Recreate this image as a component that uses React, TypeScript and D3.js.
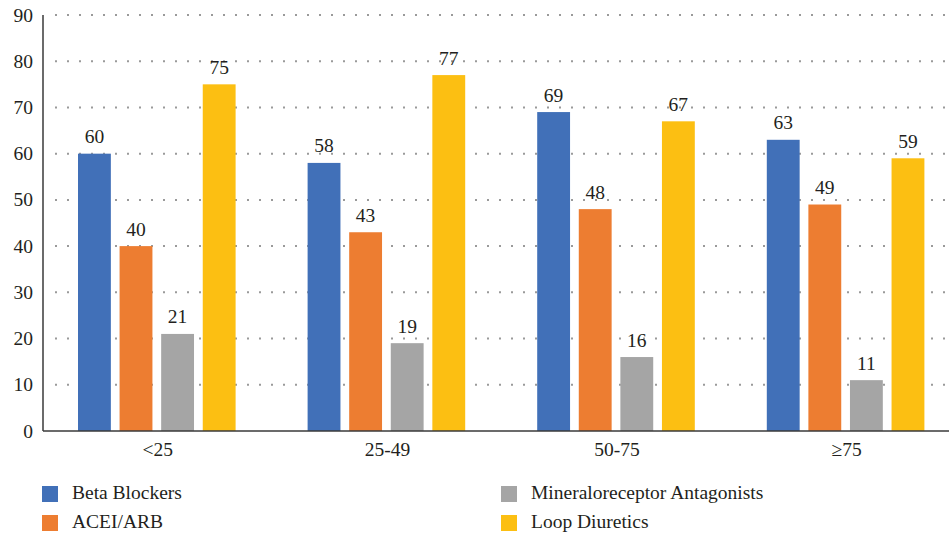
import React from "react";
import * as d3 from "d3";

const categories = ["<25", "25-49", "50-75", "≥75"];
const seriesNames = ["Beta Blockers", "ACEI/ARB", "Mineraloreceptor Antagonists", "Loop Diuretics"];
const betaBlockers = [60, 58, 69, 63];
const aceiArb = [40, 43, 48, 49];
const mineraloreceptor = [21, 19, 16, 11];
const loopDiuretics = [75, 77, 67, 59];
const yTicks = [0, 10, 20, 30, 40, 50, 60, 70, 80, 90];
const colors = ["#4170B8", "#ED7D31", "#A5A5A5", "#FCBF12"];

const W = 949;
const H = 535;
const left = 43;
const right = 949;
const groupStep = 229.6;
const top = 15;
const bottom = 431;
const font = '"Liberation Serif", "Times New Roman", Times';
const txt = { fontFamily: font, fontSize: 19.5, fill: "#231f20" } as const;

export default function App() {
  const series = [betaBlockers, aceiArb, mineraloreceptor, loopDiuretics];
  const x0 = d3
    .scaleBand<string>()
    .domain(categories)
    .range([left, left + groupStep * categories.length])
    .paddingInner(0)
    .paddingOuter(0);
  const x1 = d3
    .scaleBand<string>()
    .domain(seriesNames)
    .range([35, x0.bandwidth() - 37])
    .paddingInner(0.21)
    .paddingOuter(0);
  const y = d3.scaleLinear().domain([0, 90]).range([bottom, top]);

  const legendPos = [
    { x: 42, y: 486 },
    { x: 42, y: 515 },
    { x: 501, y: 486 },
    { x: 501, y: 515 },
  ];

  return (
    <svg
      width={W}
      height={H}
      style={{ position: "absolute", left: 0, top: 0, display: "block", background: "#fff", fontFamily: font }}
    >
      {yTicks.map((t) => (
        <g key={t}>
          {t > 0 && (
            <line
              x1={left + 12}
              x2={right}
              y1={y(t)}
              y2={y(t)}
              stroke="#9a9a9a"
              strokeWidth={2}
              strokeDasharray="2 10"
            />
          )}
          <text x={33} y={y(t) + 6.5} textAnchor="end" style={txt}>
            {t}
          </text>
        </g>
      ))}
      {categories.map((c, ci) => (
        <g key={c} transform={`translate(${x0(c)},0)`}>
          {seriesNames.map((s, si) => {
            const v = series[si][ci];
            const bx = x1(s)!;
            return (
              <g key={s}>
                <rect x={bx} y={y(v)} width={x1.bandwidth()} height={bottom - y(v)} fill={colors[si]} />
                <text x={bx + x1.bandwidth() / 2} y={y(v) - 10.5} textAnchor="middle" style={txt}>
                  {v}
                </text>
              </g>
            );
          })}
          <text x={x0.bandwidth() / 2} y={456} textAnchor="middle" style={txt}>
            {c}
          </text>
        </g>
      ))}
      <line x1={left} x2={left} y1={top} y2={bottom} stroke="#3a3a3a" strokeWidth={1.5} />
      <line x1={left} x2={right} y1={bottom} y2={bottom} stroke="#3a3a3a" strokeWidth={1.5} />
      {seriesNames.map((s, i) => (
        <g key={s}>
          <rect x={legendPos[i].x} y={legendPos[i].y} width={16} height={16} fill={colors[i]} />
          <text x={legendPos[i].x + 30} y={legendPos[i].y + 13} style={txt}>
            {s}
          </text>
        </g>
      ))}
    </svg>
  );
}
